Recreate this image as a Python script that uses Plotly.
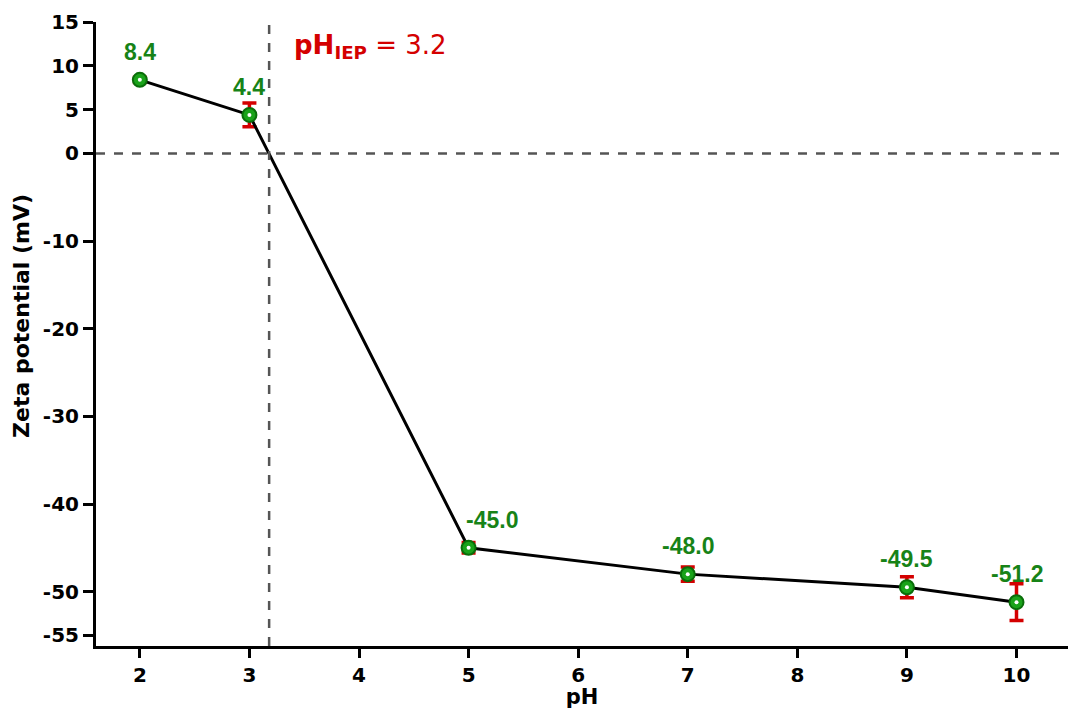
import plotly.graph_objects as go

ph = [2, 3, 5, 7, 9, 10]
zeta = [8.4, 4.4, -45.0, -48.0, -49.5, -51.2]
err = [0.3, 1.35, 0.6, 0.8, 1.2, 2.1]
labels = ["8.4", "4.4", "-45.0", "-48.0", "-49.5", "-51.2"]
label_dx = [0, 0, 23, 0, 0, 0]
y_ticks = [15, 10, 5, 0, -10, -20, -30, -40, -50, -55]
x_ticks = [2, 3, 4, 5, 6, 7, 8, 9, 10]
iep = 3.18

WIDE = "DejaVu Sans, Verdana, sans-serif"
ARIAL = "Liberation Sans, Arial, sans-serif"

fig = go.Figure()
fig.add_trace(go.Scatter(
    x=ph, y=zeta, mode="lines+markers",
    line=dict(color="black", width=3),
    marker=dict(size=14, color="#1aa31a", line=dict(color="#0a6e0a", width=2)),
    error_y=dict(type="data", array=err, color="#d40000", thickness=3.5, width=7),
    showlegend=False,
))
fig.add_trace(go.Scatter(
    x=ph, y=zeta, mode="markers",
    marker=dict(size=4, color="white"),
    showlegend=False, hoverinfo="skip",
))

fig.add_shape(type="line", xref="x", yref="paper", x0=iep, x1=iep, y0=0, y1=1,
              line=dict(color="#555555", width=2.5, dash="dash"))
fig.add_shape(type="line", xref="paper", yref="y", x0=0, x1=1, y0=0, y1=0,
              line=dict(color="#555555", width=2.5, dash="dash"))

for x, y, t, dx in zip(ph, zeta, labels, label_dx):
    fig.add_annotation(x=x, y=y, text="<b>" + t + "</b>", showarrow=False,
                       xshift=dx, yshift=28,
                       font=dict(family=ARIAL, size=23, color="#178317"))

fig.add_annotation(x=3.39, y=12.2, xref="x", yref="y", xanchor="left",
                   text="<b>pH<sub>IEP</sub></b> = 3.2", showarrow=False,
                   font=dict(family=WIDE, size=26, color="#d40000"))

fig.add_annotation(x=(22 - 96) / (1068 - 96), y=0.529, xref="paper", yref="paper",
                   xanchor="center", yanchor="middle", textangle=-90,
                   text="<b>Zeta potential (mV)</b>", showarrow=False,
                   font=dict(family=WIDE, size=22, color="black"))

fig.update_layout(
    width=1073, height=709,
    margin=dict(l=96, r=5, t=22, b=63),
    paper_bgcolor="white", plot_bgcolor="white",
    font=dict(family=WIDE, size=20, color="black"),
)
fig.update_xaxes(
    range=[1.6, 10.47], tickvals=x_ticks, ticktext=["<b>%d</b>" % v for v in x_ticks],
    showgrid=False, zeroline=False, showline=True, linecolor="black", linewidth=3,
    ticks="outside", ticklen=9, tickwidth=3, tickcolor="black",
    tickfont=dict(family=WIDE, size=20, color="black"),
    title=dict(text="<b>pH</b>", font=dict(family=WIDE, size=21), standoff=0),
)
fig.update_yaxes(
    range=[-56.2, 15], tickvals=y_ticks, ticktext=["<b>%d</b>" % v for v in y_ticks],
    showgrid=False, zeroline=False, showline=True, linecolor="black", linewidth=3,
    ticks="outside", ticklen=10, tickwidth=3, tickcolor="black",
    tickfont=dict(family=WIDE, size=20, color="black"),
)

fig.write_html("out.html")
